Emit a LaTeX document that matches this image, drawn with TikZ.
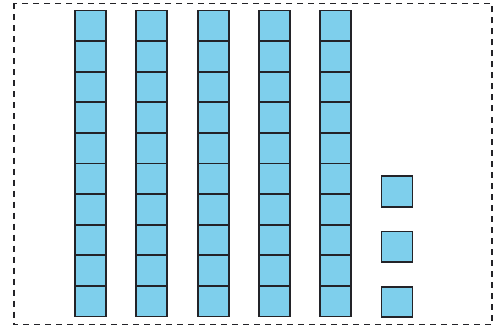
\documentclass[tikz,border=0pt]{standalone}
\usepackage{tikz}
\usetikzlibrary{positioning}
\definecolor{unitblue}{RGB}{126,207,236}
\definecolor{unitedge}{RGB}{35,35,40}
\tikzset{
  unit/.style={draw=unitedge, line width=1.8pt, fill=unitblue, minimum width=31pt, minimum height=30.6pt, inner sep=0pt, outer sep=0pt, anchor=north west},
  frame/.style={draw=unitedge, line width=1.4pt, dash pattern=on 6pt off 5pt}
}
\begin{document}
\begin{tikzpicture}[x=1pt,y=-1pt]
  \useasboundingbox (0,0) rectangle (494,331);
  \coordinate (fa) at (14,3.5);
  \coordinate (fb) at (492,324.5);
  \draw[frame] (fa) rectangle (fb);

  % tens: five columns of ten
  \foreach \i in {0,...,4} {
    \foreach \j in {0,...,9} {
      \node[unit] (col\i-\j) at (75+61.3*\i, 10.5+30.6*\j) {};
    }
  }

  % ones
  \node[unit] (one1) at (381.5,176) {};
  \node[unit] (one2) at (381.5,231.5) {};
  \node[unit] (one3) at (381.5,286.7) {};
\end{tikzpicture}
\end{document}
